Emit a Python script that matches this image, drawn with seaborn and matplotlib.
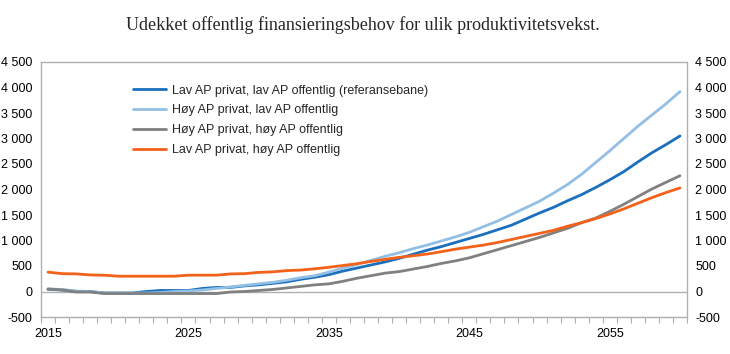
import numpy as np
import pandas as pd
import matplotlib
matplotlib.use("Agg")
import matplotlib.pyplot as plt
import seaborn as sns
from matplotlib.ticker import FixedLocator, FuncFormatter

years = list(range(2015, 2061))

lav_lav = [40, 30, 0, 0, -30, -30, -30, 0, 20, 20,
           20, 60, 80, 80, 110, 130, 160, 190, 240, 280,
           330, 400, 460, 520, 580, 650, 730, 810, 880, 960,
           1040, 1120, 1210, 1300, 1420, 1540, 1650, 1780, 1900, 2040,
           2190, 2350, 2540, 2720, 2880, 3050]
hoy_lav = [50, 40, 10, 0, -30, -30, -30, -30, -20, 0,
           10, 30, 60, 90, 120, 150, 180, 220, 270, 310,
           380, 460, 530, 610, 690, 760, 840, 910, 990, 1070,
           1160, 1270, 1380, 1510, 1640, 1770, 1930, 2100, 2300, 2530,
           2760, 3000, 3240, 3460, 3680, 3920]
hoy_hoy = [50, 30, -10, -10, -40, -40, -40, -40, -40, -40,
           -40, -40, -40, -10, 0, 20, 40, 70, 100, 130,
           150, 200, 260, 310, 360, 390, 440, 490, 550, 600,
           660, 740, 820, 900, 980, 1060, 1150, 1240, 1350, 1440,
           1570, 1710, 1860, 2010, 2140, 2270]
lav_hoy = [380, 350, 345, 325, 320, 300, 300, 300, 300, 300,
           320, 320, 320, 345, 350, 375, 385, 410, 420, 445,
           475, 510, 545, 590, 630, 670, 700, 735, 780, 830,
           870, 910, 960, 1020, 1080, 1140, 1200, 1280, 1350, 1430,
           1520, 1620, 1730, 1840, 1940, 2030]

series_names = ["Lav AP privat, lav AP offentlig (referansebane)",
                "Høy AP privat, lav AP offentlig",
                "Høy AP privat, høy AP offentlig",
                "Lav AP privat, høy AP offentlig"]
colors = ["#1a6fbf", "#92bfe3", "#808080", "#f4621a"]
title = "Udekket offentlig finansieringsbehov for ulik produktivitetsvekst."

df = pd.concat([
    pd.DataFrame({"År": years, "Verdi": vals, "Serie": name})
    for name, vals in zip(series_names, [lav_lav, hoy_lav, hoy_hoy, lav_hoy])
])

sns.set_theme(style="white")
plt.rcParams["font.family"] = ["Liberation Sans", "DejaVu Sans"]

fig = plt.figure(figsize=(7.3, 3.54), dpi=100)
ax = fig.add_axes([41/730, 1-317/354, (687-41)/730, (317-62)/354])

sns.lineplot(data=df, x="År", y="Verdi", hue="Serie", hue_order=series_names,
             palette=colors, linewidth=2.0, ax=ax, legend=True)

ax.axhline(0, color="#b0b0b0", linewidth=1.0, zorder=0)
ax.set_xlim(2014.5, 2060.5)
ax.set_ylim(-500, 4500)
ax.set_xlabel("")
ax.set_ylabel("")

fmt = FuncFormatter(lambda v, p: f"{int(v):,}".replace(",", " "))
yt = list(range(-500, 4501, 500))
ax.set_yticks(yt)
ax.yaxis.set_major_formatter(fmt)
ax.set_xticks([2015, 2025, 2035, 2045, 2055])
ax.xaxis.set_minor_locator(FixedLocator(np.arange(2014.5, 2061, 1.0)))
ax.tick_params(axis="x", which="major", length=0, labelsize=9, pad=8, colors="black")
ax.tick_params(axis="x", which="minor", length=4, width=0.8, color="#b0b0b0", direction="out", bottom=True)
ax.tick_params(axis="y", length=0, labelsize=9, pad=6, colors="black")

for s in ax.spines.values():
    s.set_color("#b0b0b0")
    s.set_linewidth(1.0)

ax2 = ax.twinx()
ax2.set_ylim(-500, 4500)
ax2.set_yticks(yt)
ax2.yaxis.set_major_formatter(fmt)
ax2.tick_params(axis="y", length=0, labelsize=9, pad=6, colors="black")
for s in ax2.spines.values():
    s.set_visible(False)

leg = ax.legend(loc="upper left", bbox_to_anchor=(0.125, 0.955), frameon=False,
                fontsize=9, handlelength=2.6, labelspacing=0.62, handletextpad=0.5)

fig.text(0.497, 1-25/354, title, ha="center", va="center", fontsize=13,
         family=["Liberation Serif", "DejaVu Serif"])

fig.savefig("out.png", dpi=100)
